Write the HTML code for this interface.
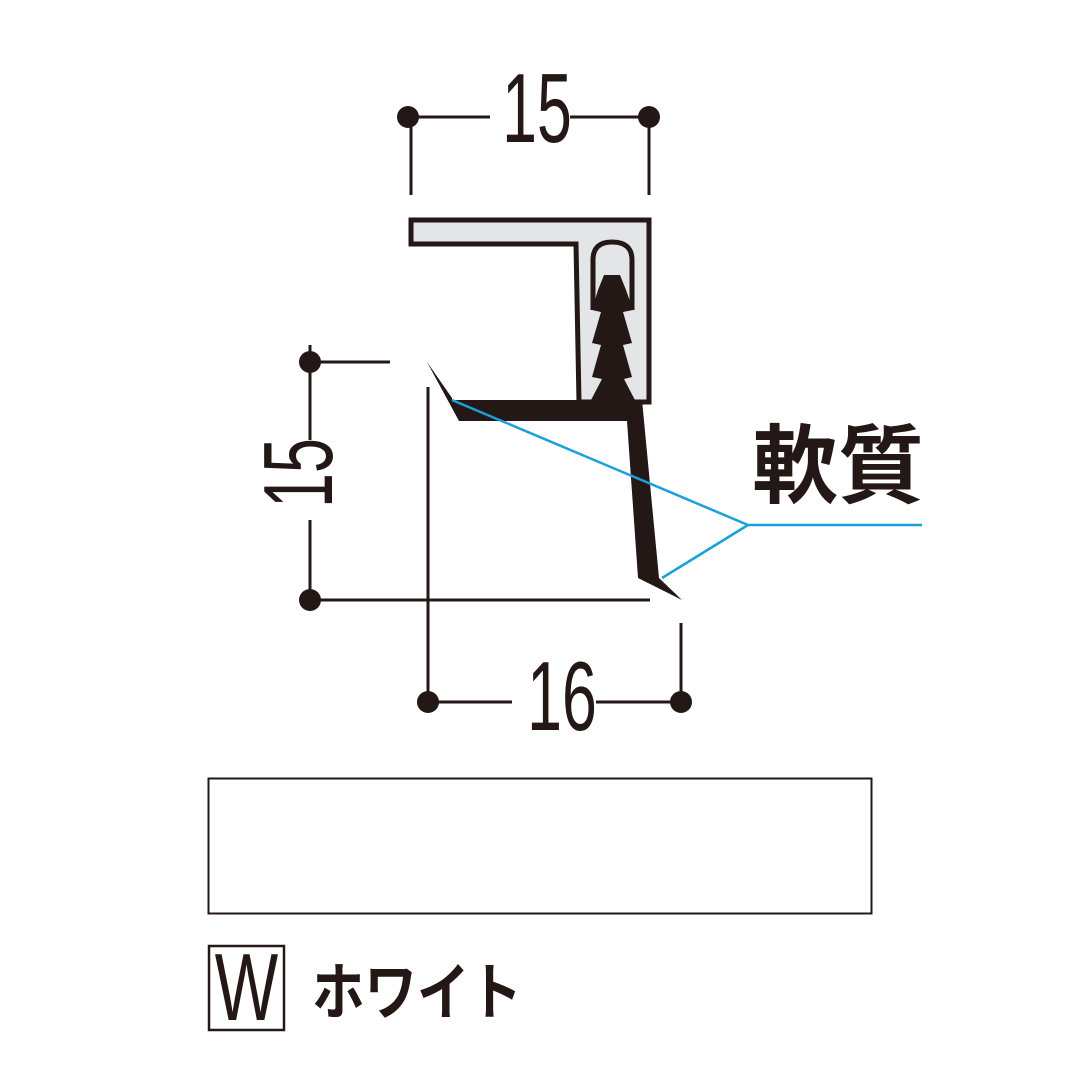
<!DOCTYPE html>
<html><head><meta charset="utf-8"><style>
html,body{margin:0;padding:0;background:#fff;}
svg{display:block}
</style></head><body>
<svg width="1080" height="1080" viewBox="0 0 1080 1080" xmlns="http://www.w3.org/2000/svg">
<g stroke="#231815" stroke-width="3" fill="none">
  <line x1="406" y1="117" x2="490" y2="117"/><line x1="570" y1="117" x2="650" y2="117"/>
  <line x1="411" y1="117" x2="411" y2="195"/><line x1="649" y1="117" x2="649" y2="195"/>
  <line x1="310" y1="362" x2="390" y2="362"/>
  <line x1="310" y1="345" x2="310" y2="440"/><line x1="310" y1="520" x2="310" y2="600"/>
  <line x1="310" y1="600" x2="650" y2="600"/>
  <line x1="428" y1="387" x2="428" y2="702"/>
  <line x1="681" y1="623" x2="681" y2="700"/>
  <line x1="428" y1="702" x2="512" y2="702"/><line x1="596" y1="702" x2="681" y2="702"/>
</g>
<g fill="#231815">
  <circle cx="408" cy="117" r="11"/><circle cx="649" cy="117" r="11"/>
  <circle cx="310" cy="362" r="11"/><circle cx="310" cy="600" r="11"/>
  <circle cx="428" cy="702" r="11"/><circle cx="681" cy="702" r="11"/>
</g>
<g font-family="Liberation Sans, sans-serif" fill="#231815" font-size="98">
  <text transform="translate(537,142) scale(0.64,1)" text-anchor="middle">15</text>
  <text transform="translate(332,473) rotate(-90) scale(0.64,1)" text-anchor="middle">15</text>
  <text transform="translate(562,730) scale(0.64,1)" text-anchor="middle">16</text>
</g>
<path d="M411,220 H649 V402 H579 L576,244 H411 Z" fill="#e3e5e7" stroke="#231815" stroke-width="5"/>
<path d="M593,310 V260 Q593,242 612,242 Q632,242 632,260 V310" fill="none" stroke="#231815" stroke-width="5"/>
<path d="M604,275 H620 L626,290 L633,310 L623,312 L632,343 L623,345 L632,377 L624,379 L636,402 H590 L602,379 L592,377 L601,345 L592,343 L601,312 L592,310 L598,290 Z" fill="#231815"/>
<path d="M427,362 L452,398 L452,400 H642 L659,578 L682,600 L638,578 L627,421 H459 Z" fill="#231815"/>
<g stroke="#1aa0dc" stroke-width="2.5" fill="none">
  <line x1="452" y1="400" x2="748" y2="525"/>
  <line x1="662" y1="578" x2="748" y2="525"/>
  <line x1="748" y1="525" x2="922" y2="525"/>
</g>
<text x="752" y="496" font-family="Liberation Sans, Noto Sans CJK JP, sans-serif" font-weight="bold" font-size="86" fill="#231815">軟質</text>
<rect x="208.5" y="778.5" width="663" height="135" fill="#fff" stroke="#231815" stroke-width="2"/>
<rect x="209" y="946" width="75" height="84" fill="none" stroke="#231815" stroke-width="2.5"/>
<text transform="translate(246.5,1020) scale(0.7,1)" text-anchor="middle" font-family="Liberation Sans, sans-serif" font-size="96" fill="#231815">W</text>
<text x="312" y="1014" font-family="Liberation Sans, Noto Sans CJK JP, sans-serif" font-weight="bold" font-size="62" fill="#231815" textLength="210" lengthAdjust="spacingAndGlyphs">ホワイト</text>
</svg>
</body></html>
